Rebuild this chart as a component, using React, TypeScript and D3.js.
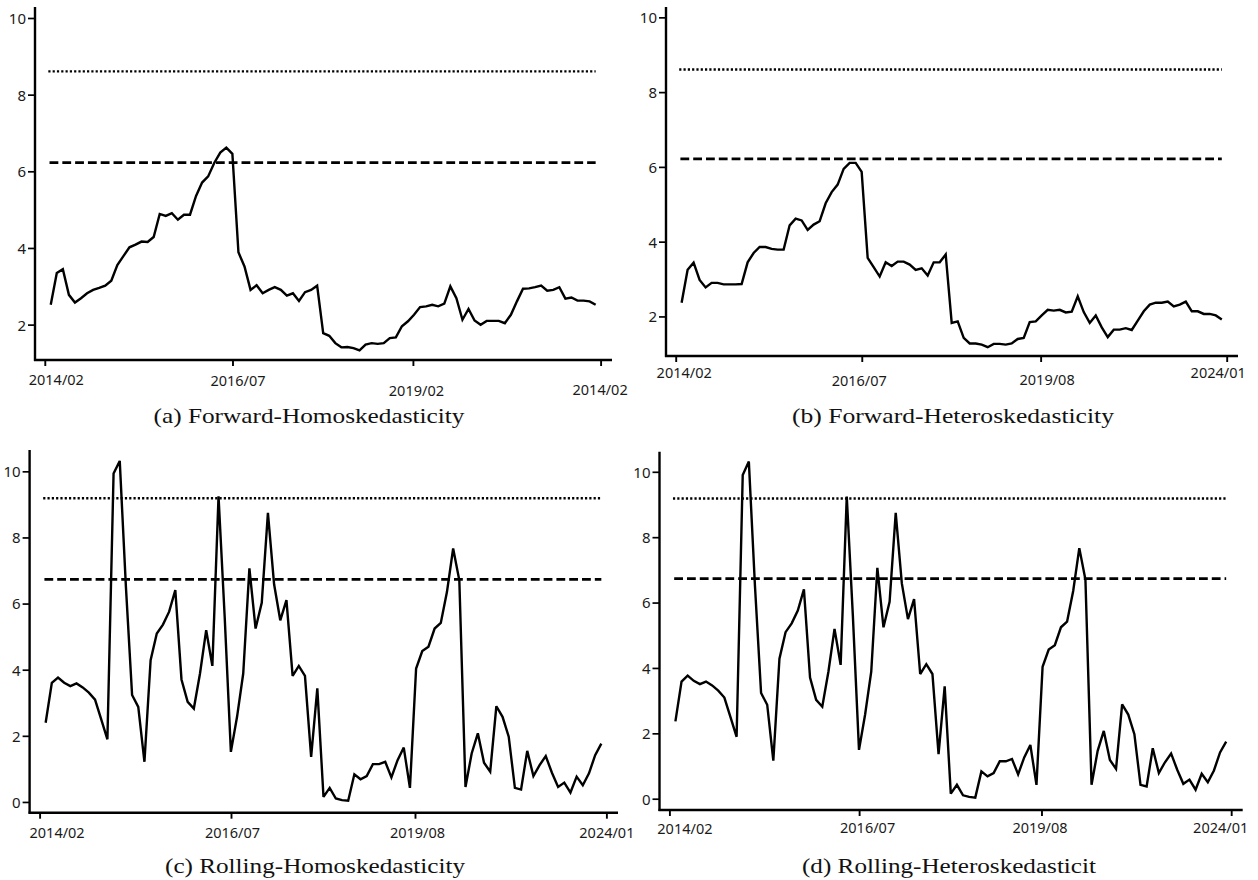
import React from "react";
import * as d3 from "d3";

// ---- data (period index 0..90) ----
const forwardHomo = [
  2.53, 3.36, 3.46, 2.79, 2.59, 2.7, 2.83, 2.92, 2.97, 3.03,
  3.16, 3.57, 3.8, 4.03, 4.1, 4.18, 4.17, 4.3, 4.9, 4.85,
  4.92, 4.75, 4.88, 4.88, 5.37, 5.72, 5.88, 6.23, 6.5, 6.63,
  6.47, 3.9, 3.53, 2.92, 3.04, 2.83, 2.92, 2.99, 2.92, 2.77,
  2.83, 2.63, 2.86, 2.92, 3.03, 1.79, 1.72, 1.53, 1.42, 1.43,
  1.4, 1.34, 1.49, 1.53, 1.51, 1.53, 1.66, 1.68, 1.97, 2.1,
  2.27, 2.47, 2.49, 2.53, 2.49, 2.56, 3.01, 2.7, 2.14, 2.42,
  2.12, 2.01, 2.11, 2.11, 2.11, 2.05, 2.27, 2.62, 2.95, 2.96,
  2.99, 3.03, 2.9, 2.92, 2.99, 2.69, 2.72, 2.64, 2.64, 2.62,
  2.53,
];
const forwardHetero = [
  2.38, 3.26, 3.45, 2.99, 2.79, 2.91, 2.91, 2.87, 2.87, 2.87,
  2.88, 3.46, 3.71, 3.87, 3.87, 3.82, 3.8, 3.8, 4.45, 4.63,
  4.58, 4.33, 4.47, 4.56, 5.04, 5.34, 5.54, 5.96, 6.12, 6.12,
  5.88, 3.58, 3.33, 3.08, 3.46, 3.36, 3.48, 3.48, 3.4, 3.26,
  3.3, 3.11, 3.46, 3.46, 3.67, 1.84, 1.88, 1.44, 1.29, 1.29,
  1.26, 1.19, 1.28, 1.28, 1.26, 1.29, 1.41, 1.44, 1.86, 1.88,
  2.04, 2.19, 2.17, 2.19, 2.12, 2.14, 2.55, 2.13, 1.84, 2.04,
  1.72, 1.46, 1.66, 1.66, 1.7, 1.65, 1.9, 2.15, 2.33, 2.38,
  2.38, 2.41, 2.28, 2.33, 2.41, 2.15, 2.15, 2.08, 2.08, 2.04,
  1.93,
];
const rollingHomo = [
  2.41, 3.62, 3.78, 3.62, 3.52, 3.6, 3.48, 3.32, 3.11, 2.51,
  1.91, 9.95, 10.33, 6.52, 3.25, 2.89, 1.23, 4.3, 5.11, 5.38,
  5.77, 6.42, 3.72, 3.04, 2.84, 3.9, 5.21, 4.13, 9.26, 5.6,
  1.53, 2.59, 3.9, 7.08, 5.26, 6.04, 8.76, 6.6, 5.51, 6.12,
  3.83, 4.13, 3.83, 1.38, 3.45, 0.17, 0.44, 0.12, 0.07, 0.05,
  0.85, 0.7, 0.8, 1.16, 1.16, 1.23, 0.76, 1.28, 1.66, 0.44,
  4.05, 4.58, 4.71, 5.26, 5.43, 6.37, 7.68, 6.72, 0.47, 1.48,
  2.09, 1.2, 0.93, 2.91, 2.59, 1.99, 0.44, 0.39, 1.56, 0.8,
  1.13, 1.4, 0.9, 0.47, 0.6, 0.3, 0.78, 0.52, 0.88, 1.43,
  1.78,
];
const rollingHetero = [
  2.38, 3.6, 3.78, 3.62, 3.52, 3.6, 3.48, 3.32, 3.11, 2.51,
  1.91, 9.92, 10.33, 6.52, 3.25, 2.89, 1.18, 4.3, 5.11, 5.38,
  5.77, 6.42, 3.72, 3.04, 2.83, 3.9, 5.21, 4.11, 9.26, 5.6,
  1.51, 2.59, 3.9, 7.08, 5.26, 6.04, 8.76, 6.6, 5.51, 6.12,
  3.83, 4.13, 3.83, 1.38, 3.45, 0.17, 0.44, 0.12, 0.07, 0.05,
  0.85, 0.7, 0.8, 1.16, 1.16, 1.23, 0.76, 1.28, 1.66, 0.44,
  4.05, 4.58, 4.71, 5.26, 5.43, 6.37, 7.68, 6.72, 0.44, 1.48,
  2.09, 1.2, 0.93, 2.9, 2.59, 1.99, 0.44, 0.39, 1.56, 0.8,
  1.13, 1.4, 0.9, 0.47, 0.6, 0.29, 0.78, 0.52, 0.88, 1.43,
  1.76,
];

const tickPeriods = [-0.9, 30.1, 59.9, 90.9];
const tickLabelsA = ["2014/02", "2016/07", "2019/02", "2014/02"];
const tickLabelsB = ["2014/02", "2016/07", "2019/08", "2024/01"];
const tickLabelsC = ["2014/02", "2016/07", "2019/08", "2024/01"];
const tickLabelsD = ["2014/02", "2016/07", "2019/08", "2024/01"];
const yTicksForward = [2, 4, 6, 8, 10];
const yTicksRolling = [0, 2, 4, 6, 8, 10];
const criticalForwardHomo = [8.62, 6.24];
const criticalForwardHetero = [8.62, 6.23];
const criticalRollingHomo = [9.2, 6.75];
const criticalRollingHetero = [9.2, 6.75];
const captions = [
  "(a) Forward-Homoskedasticity",
  "(b) Forward-Heteroskedasticity",
  "(c) Rolling-Homoskedasticity",
  "(d) Rolling-Heteroskedasticit",
];

// ---- layout (pixels) ----
const panels = [
  {
    data: forwardHomo, labels: tickLabelsA, yTicks: yTicksForward, crit: criticalForwardHomo, caption: captions[0],
    axisX: 35, axisRight: 612, xAxisY: 360, yTop: 7, yDomain: [1.09, 10.3],
    labelDx: [11, 5, 3, -1], labelY: [380, 381, 391, 390],
    capX: 309, capY: 423, capW: 311,
  },
  {
    data: forwardHetero, labels: tickLabelsB, yTicks: yTicksForward, crit: criticalForwardHetero, caption: captions[1],
    axisX: 666, axisRight: 1238, xAxisY: 356, yTop: 7, yDomain: [0.955, 10.29],
    labelDx: [8, -3, 6, -9], labelY: [373, 381, 380, 373],
    capX: 953, capY: 423, capW: 322,
  },
  {
    data: rollingHomo, labels: tickLabelsC, yTicks: yTicksRolling, crit: criticalRollingHomo, caption: captions[2],
    axisX: 29.6, axisRight: 618, xAxisY: 812.7, yTop: 450, yDomain: [-0.31, 10.66],
    labelDx: [17, 1, 2, 0], labelY: [833, 833, 833, 833],
    capX: 315, capY: 873, capW: 300,
  },
  {
    data: rollingHetero, labels: tickLabelsD, yTicks: yTicksRolling, crit: criticalRollingHetero, caption: captions[3],
    axisX: 659.5, axisRight: 1242.7, xAxisY: 810, yTop: 451.7, yDomain: [-0.33, 10.63],
    labelDx: [15, 8, -2, -11], labelY: [829, 828, 828, 828],
    capX: 949, capY: 873, capW: 294,
  },
];

const X_DOMAIN = [-2.6, 92.7];
const SANS = "'Noto Sans', 'Open Sans', sans-serif";
const SERIF = "'Liberation Serif', 'DejaVu Serif', serif";

function Panel({ p }: { p: any }) {
  const x = d3.scaleLinear().domain(X_DOMAIN).range([p.axisX, p.axisRight]);
  const y = d3.scaleLinear().domain(p.yDomain).range([p.xAxisY, p.yTop]);
  const line = d3
    .line<number>()
    .x((_, i) => x(i))
    .y((v) => y(v));
  const lastIdx = p.data.length - 1;
  return (
    <g>
      {/* critical value lines */}
      <line x1={x(-0.4)} x2={x(lastIdx)} y1={y(p.crit[0])} y2={y(p.crit[0])}
        stroke="#000" strokeWidth={2.4} strokeDasharray="2.2,2.1" />
      <line x1={x(-0.2)} x2={x(lastIdx)} y1={y(p.crit[1])} y2={y(p.crit[1])}
        stroke="#000" strokeWidth={2.7} strokeDasharray="8.8,4" />
      {/* series */}
      <path d={line(p.data) || ""} fill="none" stroke="#000" strokeWidth={2.4}
        strokeLinejoin="miter" strokeMiterlimit={3} />
      {/* axes */}
      <line x1={p.axisX} x2={p.axisX} y1={p.yTop} y2={p.xAxisY + 1} stroke="#000" strokeWidth={2.4} />
      <line x1={p.axisX - 1} x2={p.axisRight} y1={p.xAxisY} y2={p.xAxisY} stroke="#000" strokeWidth={2.4} />
      {p.yTicks.map((t: number) => (
        <g key={"y" + t}>
          <line x1={p.axisX - 7} x2={p.axisX} y1={y(t)} y2={y(t)} stroke="#000" strokeWidth={1.7} />
          <text x={p.axisX - 9} y={y(t)} dy="0.36em" textAnchor="end"
            fontFamily={SANS} fontSize={15} fill="#1a1a1a">{t}</text>
        </g>
      ))}
      {tickPeriods.map((t, i) => (
        <g key={"x" + i}>
          <line x1={x(t)} x2={x(t)} y1={p.xAxisY} y2={p.xAxisY + 6} stroke="#000" strokeWidth={1.9} />
          <text x={x(t) + p.labelDx[i]} y={p.labelY[i]} dy="0.36em" textAnchor="middle"
            fontFamily={SANS} fontSize={14.5} fill="#1a1a1a">{p.labels[i]}</text>
        </g>
      ))}
      <text x={p.capX} y={p.capY} textAnchor="middle"
        fontFamily={SERIF} fontSize={21} fill="#111"
        textLength={p.capW} lengthAdjust="spacingAndGlyphs">{p.caption}</text>
    </g>
  );
}

export default function App() {
  return (
    <svg width={1258} height={880} viewBox="0 0 1258 880"
      style={{ position: "absolute", left: 0, top: 0, background: "#fff", display: "block" }}>
      <rect width={1258} height={880} fill="#fff" />
      {panels.map((p, i) => (
        <Panel key={i} p={p} />
      ))}
    </svg>
  );
}
